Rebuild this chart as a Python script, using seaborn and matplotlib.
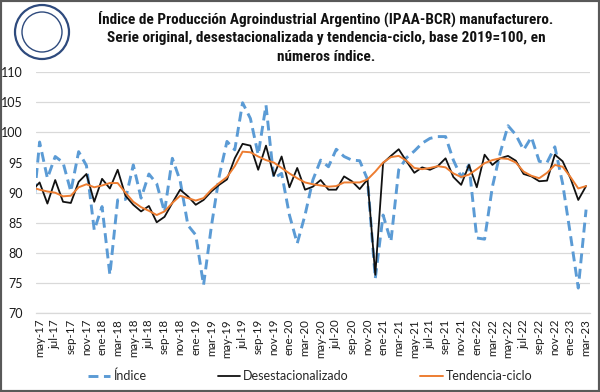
import numpy as np
import pandas as pd
import matplotlib
matplotlib.use("Agg")
import matplotlib.pyplot as plt
import seaborn as sns
from matplotlib import font_manager as fm
from matplotlib.patches import Ellipse, Rectangle
from matplotlib.lines import Line2D

# ---------------- data ----------------
meses = ["ene", "feb", "mar", "abr", "may", "jun", "jul", "ago", "sep", "oct", "nov", "dic"]
# abr-17 (partially visible, clipped at the left edge) ... mar-23
periodos = [f"{meses[(3 + k) % 12]}-{17 + (3 + k) // 12}" for k in range(72)]

indice = [84.8,
          98.4, 92.4, 96.0, 95.0, 90.2, 96.8, 94.5, 83.8, 87.7, 76.4,
          88.8, 88.9, 94.6, 89.1, 93.1, 91.5, 86.8, 95.7, 92.0, 84.6,
          83.0, 74.7, 84.4, 92.7, 98.5, 97.1, 104.9, 102.3, 96.3, 104.5,
          92.4, 93.2, 86.3, 81.6, 86.3, 92.1, 95.4, 94.3, 97.2, 96.0,
          95.4, 95.3, 92.2, 75.8, 86.3, 81.9, 93.8, 95.8, 96.9, 98.2,
          99.0, 99.3, 99.3, 95.4, 92.6, 94.6, 82.5, 82.3, 91.0, 96.6,
          101.1, 99.6, 97.1, 99.2, 95.2, 95.0, 97.6, 91.5, 83.0, 74.2,
          87.2]

desestacionalizado = [90.3,
                      91.7, 88.2, 92.1, 88.5, 88.3, 91.8, 93.1, 88.5, 92.3, 90.7,
                      93.8, 89.5, 88.0, 86.9, 87.8, 85.1, 86.0, 88.3, 90.5, 89.4,
                      88.0, 88.8, 90.2, 91.3, 92.2, 95.7, 98.1, 97.8, 93.8, 97.8,
                      92.8, 96.0, 90.9, 94.1, 90.5, 91.0, 92.1, 90.5, 90.5, 92.7,
                      91.9, 90.6, 92.2, 76.4, 94.9, 96.1, 97.2, 95.2, 93.3, 94.2,
                      93.8, 94.4, 95.7, 92.6, 91.3, 94.6, 90.9, 96.3, 94.6, 95.7,
                      96.1, 95.3, 93.1, 92.7, 91.9, 92.0, 96.3, 95.2, 92.4, 88.8,
                      91.1]

tendencia = [90.9,
             90.5, 90.2, 90.0, 89.4, 89.5, 90.9, 91.4, 90.9, 91.2, 91.6,
             91.6, 90.0, 88.5, 87.6, 87.0, 86.3, 86.9, 88.3, 89.5, 89.1,
             88.7, 89.1, 90.5, 91.6, 92.6, 94.4, 96.8, 96.7, 96.0, 95.4,
             95.0, 94.1, 93.2, 92.4, 91.7, 91.4, 91.2, 91.0, 91.1, 91.7,
             91.7, 91.7, 92.2, 93.5, 95.0, 95.9, 96.1, 95.3, 94.1, 93.9,
             94.1, 94.4, 94.2, 93.2, 92.6, 93.0, 93.9, 94.9, 95.4, 95.7,
             95.6, 95.0, 93.5, 92.8, 92.4, 93.3, 94.6, 94.3, 92.6, 90.7,
             91.1]

titulo_lineas = ["Índice de Producción Agroindustrial Argentino (IPAA-BCR) manufacturero.",
                 "Serie original, desestacionalizada y tendencia-ciclo, base 2019=100, en",
                 "números índice."]

df = pd.DataFrame({"pos": np.arange(len(periodos)),
                   "periodo": periodos,
                   "Índice": indice,
                   "Desestacionalizado": desestacionalizado,
                   "Tendencia-ciclo": tendencia})

# ---------------- style ----------------
sns.set_theme(style="white")
plt.rcParams["font.family"] = ["Lato", "DejaVu Sans"]

C_BLUE = "#5B9BD5"
C_BLACK = "#111111"
C_ORANGE = "#ED7D31"

fig = plt.figure(figsize=(6, 3.92), dpi=100)
fig.patch.set_facecolor("white")
ax = fig.add_axes([0.0595, 0.2005, 0.9238, 0.6158])

sns.lineplot(data=df, x="pos", y="Índice", ax=ax, color=C_BLUE, linewidth=2.1)
ax.lines[-1].set_dashes((3.4, 1.9))
ax.lines[-1].set_dash_capstyle("butt")
sns.lineplot(data=df, x="pos", y="Desestacionalizado", ax=ax, color=C_BLACK, linewidth=1.3)
sns.lineplot(data=df, x="pos", y="Tendencia-ciclo", ax=ax, color=C_ORANGE, linewidth=1.4)

ax.set_xlim(0.5, len(periodos) - 0.5)
ax.set_ylim(70, 110)
ax.set_yticks(np.arange(70, 111, 5))
ax.set_xlabel("")
ax.set_ylabel("")

lab_pos = list(range(1, len(periodos), 2))
ax.set_xticks(lab_pos)
ax.set_xticklabels([periodos[p] for p in lab_pos], rotation=90, fontsize=8.3, color="#1a1a1a")
ax.set_xticks(np.arange(0.5, len(periodos), 2), minor=True)
ax.tick_params(axis="x", which="major", length=0, pad=4)
ax.tick_params(axis="x", which="minor", length=4, width=0.8, color="#BFBFBF", direction="out")
ax.tick_params(axis="y", length=0, pad=9, labelsize=9, labelcolor="#1a1a1a")

ax.grid(axis="y", color="#D9D9D9", linewidth=0.9)
ax.grid(axis="x", visible=False)
for s in ["left", "right", "top"]:
    ax.spines[s].set_visible(False)
ax.spines["bottom"].set_color("#D9D9D9")
ax.spines["bottom"].set_linewidth(0.9)

# legend
handles = [Line2D([], [], color=C_BLUE, linewidth=2.1, dashes=(3.4, 1.9)),
           Line2D([], [], color=C_BLACK, linewidth=1.3),
           Line2D([], [], color=C_ORANGE, linewidth=1.4)]
fig.legend(handles, ["Índice", "Desestacionalizado", "Tendencia-ciclo"],
           loc="center", bbox_to_anchor=(310 / 600, 0.041), ncol=3, frameon=False,
           columnspacing=5.7, handlelength=1.8, handletextpad=0.25, fontsize=9)

# title: pick a narrow bold family if present and fit the width of the reference
names = {f.name for f in fm.fontManager.ttflist}
tfam = "DejaVu Sans"
for cand in ["Liberation Sans Narrow", "Roboto Condensed", "Open Sans Condensed", "Roboto", "Liberation Sans"]:
    if cand in names:
        tfam = cand
        break
renderer = fig.canvas.get_renderer()
probe = fig.text(0, 0, titulo_lineas[0], fontsize=10, fontweight="bold", family=tfam)
w = probe.get_window_extent(renderer).width
probe.remove()
fs = min(11.0, 10 * 458 / w)
ys = [19, 38, 57]
for line, yp in zip(titulo_lineas, ys):
    fig.text(326 / 600, 1 - yp / 392, line, ha="center", va="center",
             fontsize=fs, fontweight="bold", family=tfam, color="#111111")

# logo rings (approximation)
for r, lw in [(27, 1.6), (20, 1.0)]:
    fig.patches.append(Ellipse((42 / 600, 1 - 32 / 392), 2 * r / 600, 2 * r / 392,
                               transform=fig.transFigure, fill=False,
                               edgecolor="#2E4A7D", linewidth=lw))

# outer border
fig.patches.append(Rectangle((0, 0), 1, 1, transform=fig.transFigure, fill=False,
                             edgecolor="#595959", linewidth=3))

fig.savefig("out.png", dpi=100)
